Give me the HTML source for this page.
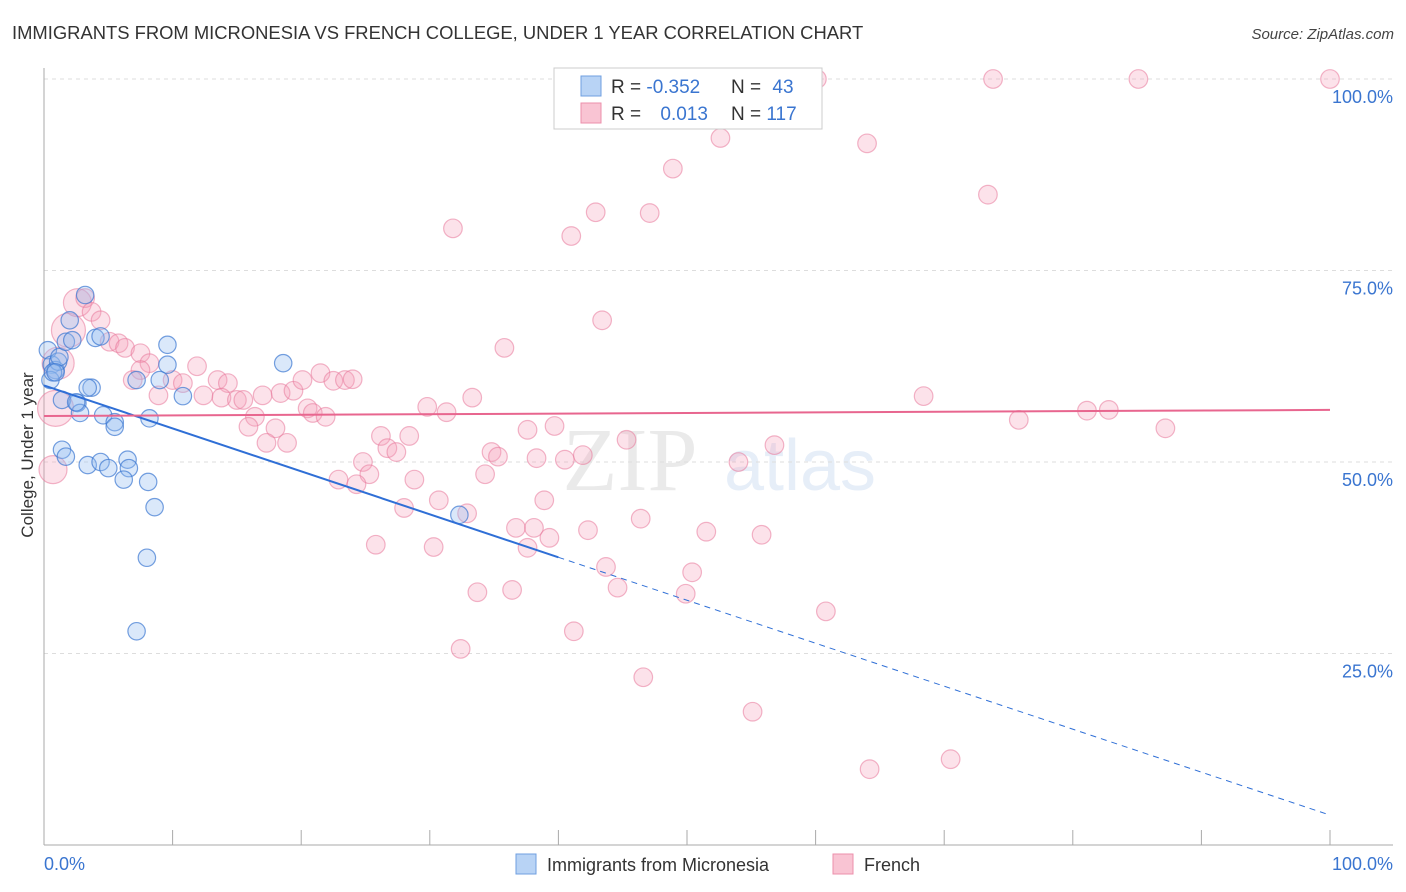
<!DOCTYPE html>
<html><head><meta charset="utf-8"><style>
body{margin:0;background:#fff;font-family:"Liberation Sans",sans-serif;}
svg{display:block}
</style></head><body>
<svg id="chart" width="1406" height="892" viewBox="0 0 1406 892">
<text x="12" y="39" font-size="18.4" fill="#333">IMMIGRANTS FROM MICRONESIA VS FRENCH COLLEGE, UNDER 1 YEAR CORRELATION CHART</text>
<text x="1394" y="39" font-size="15" fill="#444" font-style="italic" text-anchor="end">Source: ZipAtlas.com</text>
<g opacity="0.13">
<text x="630" y="490" font-size="90" font-family="Liberation Serif,serif" fill="#666" text-anchor="middle">ZIP</text>
<text x="800" y="490" font-size="72" fill="#4a7fd0" text-anchor="middle">atlas</text>
</g>
<g id="grid"></g>
<g id="axes"></g>
<g id="pts"></g>
<g id="trend"></g>
<text transform="translate(33,455) rotate(-90)" font-size="17" fill="#333" text-anchor="middle">College, Under 1 year</text>
<g>
<rect x="554" y="68" width="268" height="61" fill="#fff" stroke="#ccc"/>
<rect x="581" y="76" width="20" height="20" fill="#b8d3f5" stroke="#6f9fe0"/>
<rect x="581" y="103" width="20" height="20" fill="#f9c4d3" stroke="#ec8fab"/>
<text x="611" y="93" font-size="19" fill="#333">R = <tspan fill="#3a75d0">-0.352</tspan></text>
<text x="731" y="93" font-size="19" fill="#333">N = <tspan fill="#3a75d0" dx="6">43</tspan></text>
<text x="611" y="120" font-size="19" fill="#333">R = <tspan fill="#3a75d0" dx="14">0.013</tspan></text>
<text x="731" y="120" font-size="19" fill="#333">N = <tspan fill="#3a75d0">117</tspan></text>
</g>
<g>
<rect x="516" y="854" width="20" height="20" fill="#b8d3f5" stroke="#6f9fe0"/>
<text x="547" y="871" font-size="18" fill="#333">Immigrants from Micronesia</text>
<rect x="833" y="854" width="20" height="20" fill="#f9c4d3" stroke="#ec8fab"/>
<text x="864" y="871" font-size="18" fill="#333">French</text>
</g>
</svg>
<script>
const yTicks=[100,75,50,25];
const yTickLabels=["100.0%","75.0%","50.0%","25.0%"];
const xTickLabels=["0.0%","100.0%"];
const blueX=[0.3,0.6,0.9,0.5,1.1,1.2,1.7,2.2,2.0,3.2,4.0,4.4,3.7,3.4,1.4,2.6,2.8,2.5,4.6,5.5,5.5,7.2,9.0,9.6,10.8,8.2,9.6,18.6,1.4,1.7,3.4,4.4,5.0,6.5,6.6,6.2,8.1,8.6,8.0,7.2,32.3,0.7,0.9];
const blueY=[64.6,62.7,62.0,60.7,63.1,63.7,65.7,65.9,68.5,71.8,66.2,66.4,59.7,59.7,58.1,57.7,56.4,57.8,56.1,55.2,54.6,60.7,60.7,65.3,58.6,55.7,62.7,62.9,51.6,50.7,49.6,50.0,49.2,50.3,49.2,47.7,47.4,44.1,37.5,27.9,43.1,61.7,61.7];
const pinkX=[60.1,73.8,85.1,100,52.6,64.0,48.9,73.4,42.9,47.1,31.8,41.0,43.4,35.8,68.4,81.1,82.8,75.8,87.2,56.8,54.0,45.3,41.9,38.3,40.5,34.8,35.3,34.3,39.7,37.6,33.3,31.3,29.8,26.2,28.4,26.7,27.4,24.8,25.3,24.3,22.9,28.8,30.7,28.0,32.9,36.7,38.1,38.9,39.3,37.6,42.3,46.4,51.5,55.8,25.8,30.3,43.7,50.4,33.7,36.4,44.6,49.9,60.8,41.2,32.4,46.6,55.1,64.2,70.5,
0.9,0.7,1.1,1.9,2.6,3.2,3.7,4.4,5.1,5.8,6.3,7.5,8.2,7.5,6.9,8.9,10.0,10.8,11.9,12.4,13.5,14.3,13.8,15.0,15.5,17.0,18.4,19.4,20.1,21.5,22.5,23.4,24.0,20.5,20.9,21.9,16.4,15.9,18.0,17.3,18.9];
const pinkY=[100,100,100,100,92.3,91.6,88.3,84.9,82.6,82.5,80.5,79.5,68.5,64.9,58.6,56.7,56.8,55.5,54.4,52.2,50.0,52.9,50.9,50.5,50.3,51.3,50.7,48.4,54.7,54.2,58.4,56.5,57.2,53.4,53.4,51.8,51.3,50.0,48.4,47.1,47.7,47.7,45.0,44.0,43.3,41.4,41.4,45.0,40.1,38.8,41.1,42.6,40.9,40.5,39.2,38.9,36.3,35.6,33.0,33.3,33.6,32.8,30.5,27.9,25.6,21.9,17.4,9.9,11.2,
57.0,49.0,62.9,67.2,70.8,71.4,69.6,68.5,65.7,65.5,64.9,64.2,62.9,62.0,60.7,58.7,60.7,60.3,62.5,58.7,60.7,60.3,58.4,58.1,58.1,58.7,59.0,59.3,60.7,61.6,60.6,60.7,60.8,57.0,56.4,55.9,55.9,54.6,54.4,52.5,52.5];
const pinkBig=[18,14,16,17,14];
const blueTrend=[60.0,3.9];
const pinkTrend=[56.0,56.8];
const NS="http://www.w3.org/2000/svg";
const sx=v=>44+v*12.86;
const sy=v=>845-v*7.66;
function mk(tag,attrs,parent){const e=document.createElementNS(NS,tag);for(const k in attrs)e.setAttribute(k,attrs[k]);parent.appendChild(e);return e;}
const grid=document.getElementById('grid'),axes=document.getElementById('axes'),pts=document.getElementById('pts'),trend=document.getElementById('trend');
yTicks.forEach((t,i)=>{
  const l=mk('line',{x1:44,x2:1393,y1:sy(t),y2:sy(t),stroke:'#ddd','stroke-dasharray':'4,4'},grid);
  
  
  const tx=mk('text',{x:1393,y:sy(t)+24,'font-size':18,fill:'#3a75d0','text-anchor':'end'},grid);
  tx.textContent=yTickLabels[i];
  
  
});
const ax=mk('line',{x1:44,x2:44,y1:68,y2:845,stroke:'#aaa'},axes);


const bx=mk('line',{x1:44,x2:1393,y1:845,y2:845,stroke:'#aaa'},axes);


for(let i=0;i<=10;i++){
  const t=mk('line',{x1:sx(i*10),x2:sx(i*10),y1:830,y2:845,stroke:'#aaa'},axes);
  
  
}
[[0,'start'],[100,'end']].forEach((p,i)=>{
  const t=mk('text',{x:sx(p[0])+(i?63:0),y:870,'font-size':18,fill:'#3a75d0','text-anchor':p[1]},axes);
  t.textContent=xTickLabels[i];
  
  
});
pinkX.forEach((x,i)=>{
  const r=i>=69&&i<74?pinkBig[i-69]:9.3;
  const c=mk('circle',{cx:sx(x),cy:sy(pinkY[i]),r:r,fill:'rgba(244,160,185,0.3)',stroke:'rgba(232,120,155,0.55)','stroke-width':1.2},pts);
  
  
});
blueX.forEach((x,i)=>{
  const c=mk('circle',{cx:sx(x),cy:sy(blueY[i]),r:8.7,fill:'rgba(150,190,240,0.35)',stroke:'rgba(60,120,210,0.7)','stroke-width':1.2},pts);
  
  
});
const by=x=>blueTrend[0]+(blueTrend[1]-blueTrend[0])*x/100;
const b1=mk('line',{x1:sx(0),y1:sy(by(0)),x2:sx(40),y2:sy(by(40)),stroke:'#2f6fd6','stroke-width':2},trend);


const b2=mk('line',{x1:sx(40),y1:sy(by(40)),x2:sx(100),y2:sy(by(100)),stroke:'#2f6fd6','stroke-width':1,'stroke-dasharray':'6,5'},trend);


const p1=mk('line',{x1:sx(0),y1:sy(pinkTrend[0]),x2:sx(100),y2:sy(pinkTrend[1]),stroke:'#e8668f','stroke-width':2},trend);


</script>
</body></html>
